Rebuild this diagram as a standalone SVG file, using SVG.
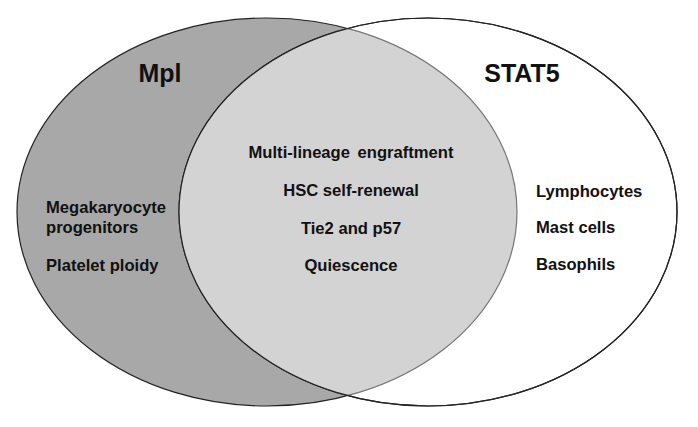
<svg xmlns="http://www.w3.org/2000/svg" width="698" height="427" viewBox="0 0 698 427">
<style>
text{font-family:"Liberation Sans",Arial,sans-serif;font-weight:bold;fill:#111}
.t{font-size:16.6px}
.h{font-size:25px}
.c{text-anchor:middle}
</style>
<defs>
<clipPath id="clipR"><ellipse cx="428" cy="212" rx="249" ry="194"/></clipPath>
</defs>
<rect width="698" height="427" fill="#fff"/>
<g id="mpl">
<ellipse cx="267" cy="212" rx="250" ry="194" fill="#a8a8a8" stroke="#222" stroke-width="1.2"/>
</g>
<g id="stat5">
<ellipse cx="428" cy="212" rx="249" ry="194" fill="#fff" stroke="#222" stroke-width="1.2"/>
</g>
<g id="overlap">
<ellipse cx="267" cy="212" rx="250" ry="194" fill="#d3d3d3" stroke="#777" stroke-width="1.2" clip-path="url(#clipR)"/>
<ellipse cx="428" cy="212" rx="249" ry="194" fill="none" stroke="#222" stroke-width="1.2"/>
</g>
<g id="labels">
<text class="h c" x="160" y="82">Mpl</text>
<text class="h c" x="522" y="82">STAT5</text>
<text class="t" x="46" y="213">Megakaryocyte</text>
<text class="t" x="46" y="233">progenitors</text>
<text class="t" x="46" y="271">Platelet ploidy</text>
<text class="t c" x="351" y="158" word-spacing="3">Multi-lineage engraftment</text>
<text class="t c" x="351" y="196">HSC self-renewal</text>
<text class="t c" x="351" y="234">Tie2 and p57</text>
<text class="t c" x="351" y="271">Quiescence</text>
<text class="t" x="536" y="197">Lymphocytes</text>
<text class="t" x="536" y="233">Mast cells</text>
<text class="t" x="536" y="270">Basophils</text>
</g>
</svg>
